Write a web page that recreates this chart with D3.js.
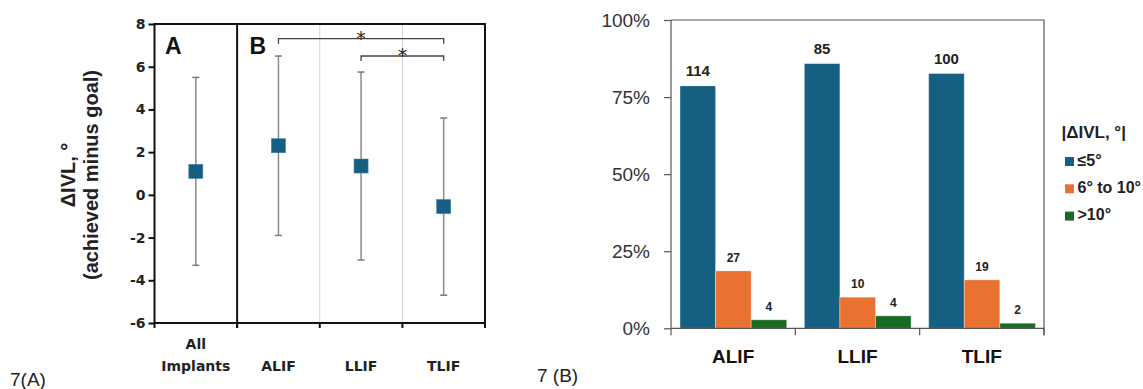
<!DOCTYPE html>
<html>
<head>
<meta charset="utf-8">
<script src="https://cdn.jsdelivr.net/npm/d3@7"></script>
<style>
  html, body { margin: 0; padding: 0; background: #fff; }
  svg { display: block; }
</style>
</head>
<body>
<script>
// ---------- Data: panel 7(A) ----------
const groupsA = ["All Implants", "ALIF", "LLIF", "TLIF"];
const meansA  = [1.1, 2.3, 1.35, -0.55];
const sdA     = [4.4, 4.2, 4.4, 4.15];
const yTicksA = [-6, -4, -2, 0, 2, 4, 6, 8];
const sigPairs = [["ALIF", "TLIF"], ["LLIF", "TLIF"]];

// ---------- Data: panel 7(B) ----------
const groupsB  = ["ALIF", "LLIF", "TLIF"];
const seriesB  = ["≤5°", "6° to 10°", ">10°"];
const countLE5   = [114, 85, 100];
const count6to10 = [27, 10, 19];
const countGT10  = [4, 4, 2];
const yTicksB  = [0, 0.25, 0.5, 0.75, 1];
const colorsB  = ["#156082", "#E97132", "#196B24"];
const legendTitle = "|ΔIVL, °|";

const W = 1143, H = 389;
const svg = d3.select("body").append("svg").attr("width", W).attr("height", H);
svg.append("rect").attr("width", W).attr("height", H).attr("fill", "#fff");

// ================= Panel A =================
const boldA = "'DejaVu Sans', sans-serif";
const xA = d3.scaleBand().domain(groupsA).range([154.5, 485]);
const yA = d3.scaleLinear().domain([-6, 8]).range([323, 24]);
const gA = svg.append("g");
const topA = yA(8), botA = yA(-6), leftA = xA.range()[0], rightA = xA.range()[1];

gA.selectAll("line.grid").data(["LLIF", "TLIF"]).join("line")
  .attr("x1", d => xA(d)).attr("x2", d => xA(d))
  .attr("y1", topA).attr("y2", botA)
  .attr("stroke", "#d4d4d4").attr("stroke-width", 1);

gA.append("rect").attr("x", leftA).attr("y", topA)
  .attr("width", rightA - leftA).attr("height", botA - topA)
  .attr("fill", "none").attr("stroke", "#111").attr("stroke-width", 2);
gA.append("line").attr("x1", xA("ALIF")).attr("x2", xA("ALIF"))
  .attr("y1", topA).attr("y2", botA + 5).attr("stroke", "#111").attr("stroke-width", 2);
const boundsA = groupsA.map(g => xA(g)).concat([rightA]);
gA.selectAll("line.btick").data(boundsA).join("line")
  .attr("x1", d => d).attr("x2", d => d)
  .attr("y1", botA).attr("y2", botA + 5)
  .attr("stroke", "#111").attr("stroke-width", 2);

const axA = gA.append("g").attr("transform", `translate(${leftA},0)`)
  .call(d3.axisLeft(yA).tickValues(yTicksA).tickSize(6).tickPadding(3).tickFormat(d => String(d)));
axA.select(".domain").remove();
axA.selectAll(".tick line").attr("stroke", "#111").attr("stroke-width", 2);
axA.selectAll(".tick text").attr("font-family", boldA).attr("font-weight", "bold")
  .attr("font-size", 14).attr("fill", "#222");

const yTitle = gA.append("text")
  .attr("transform", "translate(0,175) rotate(-90)")
  .attr("text-anchor", "middle").attr("font-family", "'Liberation Sans', Arial, sans-serif")
  .attr("font-weight", "bold").attr("font-size", 20).attr("fill", "#222");
yTitle.append("tspan").attr("x", 0).attr("y", 75).text("ΔIVL, °");
yTitle.append("tspan").attr("x", 0).attr("y", 98).text("(achieved minus goal)");

gA.selectAll("text.xl").data(groupsA).join("text")
  .attr("text-anchor", "middle").attr("font-family", boldA).attr("font-weight", "bold")
  .attr("font-size", 14).attr("fill", "#222")
  .each(function(d) {
    const t = d3.select(this);
    const cx = xA(d) + xA.bandwidth() / 2;
    const parts = d.split(" ");
    if (parts.length > 1) {
      t.append("tspan").attr("x", cx).attr("y", 349).text(parts[0]);
      t.append("tspan").attr("x", cx).attr("y", 371).text(parts[1]);
    } else {
      t.append("tspan").attr("x", cx).attr("y", 371).text(d);
    }
  });

gA.append("text").attr("x", 165).attr("y", 54).text("A")
  .attr("font-family", "'Liberation Sans', Arial, sans-serif").attr("font-weight", "bold")
  .attr("font-size", 23).attr("fill", "#111");
gA.append("text").attr("x", 249.5).attr("y", 54).text("B")
  .attr("font-family", "'Liberation Sans', Arial, sans-serif").attr("font-weight", "bold")
  .attr("font-size", 23).attr("fill", "#111");

const cxA = d => xA(d) + xA.bandwidth() / 2;
const ptsA = groupsA.map((g, i) => ({ g, m: meansA[i], lo: meansA[i] - sdA[i], hi: meansA[i] + sdA[i] }));
gA.selectAll("line.eb").data(ptsA).join("line")
  .attr("x1", d => cxA(d.g)).attr("x2", d => cxA(d.g))
  .attr("y1", d => yA(d.hi)).attr("y2", d => yA(d.lo))
  .attr("stroke", "#8a8a8a").attr("stroke-width", 1.5);
["hi", "lo"].forEach(k => {
  gA.selectAll("line.cap" + k).data(ptsA).join("line")
    .attr("x1", d => cxA(d.g) - 3.5).attr("x2", d => cxA(d.g) + 3.5)
    .attr("y1", d => yA(d[k])).attr("y2", d => yA(d[k]))
    .attr("stroke", "#7a7a7a").attr("stroke-width", 1.5);
});
gA.selectAll("rect.mk").data(ptsA).join("rect")
  .attr("x", d => cxA(d.g) - 7).attr("y", d => yA(d.m) - 7)
  .attr("width", 14).attr("height", 14)
  .attr("fill", "#156082").attr("stroke", "#3f7f9c").attr("stroke-width", 0.6);

const bracketY = [38.7, 56];
sigPairs.forEach((p, i) => {
  const x1 = cxA(p[0]), x2 = cxA(p[1]), by = bracketY[i];
  gA.append("path")
    .attr("d", `M${x1},${by + 5}V${by}H${x2}V${by + 5}`)
    .attr("fill", "none").attr("stroke", "#444").attr("stroke-width", 1.3);
  gA.append("text").attr("x", (x1 + x2) / 2).attr("y", by + 6)
    .attr("text-anchor", "middle").attr("font-family", "'DejaVu Sans', sans-serif")
    .attr("font-size", 19).attr("fill", "#222").text("*");
});

svg.append("text").attr("x", 10).attr("y", 386).text("7(A)")
  .attr("font-family", "'Liberation Sans', Arial, sans-serif").attr("font-size", 19).attr("fill", "#222");

// ================= Panel B =================
const fontB = "'Liberation Sans', Arial, sans-serif";
const countsB = [countLE5, count6to10, countGT10];
const totals = groupsB.map((g, i) => countsB.reduce((s, arr) => s + arr[i], 0));
const xB = d3.scaleBand().domain(groupsB).range([671, 1044]);
const xInner = d3.scaleBand().domain(seriesB).range([9, xB.bandwidth() - 8.6]);
const yB = d3.scaleLinear().domain([0, 1]).range([328.3, 20]);
const gB = svg.append("g");
const topB = yB(1), botB = yB(0), leftB = xB.range()[0], rightB = xB.range()[1];

gB.append("path").attr("d", `M${leftB},${topB}H${rightB}V${botB + 7}`)
  .attr("fill", "none").attr("stroke", "#555").attr("stroke-width", 1.2);

const barData = [];
groupsB.forEach((g, i) => seriesB.forEach((s, j) => {
  barData.push({ g, s, j, n: countsB[j][i], p: countsB[j][i] / totals[i] });
}));
gB.selectAll("rect.bar").data(barData).join("rect")
  .attr("x", d => xB(d.g) + xInner(d.s)).attr("width", xInner.bandwidth())
  .attr("y", d => yB(d.p)).attr("height", d => botB - yB(d.p))
  .attr("fill", d => colorsB[d.j])
  .attr("stroke", "rgba(255,255,255,0.45)").attr("stroke-width", 0.8);

gB.selectAll("text.bl").data(barData).join("text")
  .attr("x", d => xB(d.g) + xInner(d.s) + xInner.bandwidth() / 2)
  .attr("y", d => yB(d.p) - (d.j === 0 ? 10 : 9))
  .attr("text-anchor", "middle").attr("font-family", fontB).attr("font-weight", "bold")
  .attr("font-size", d => d.j === 0 ? 15 : 12).attr("fill", "#222")
  .text(d => d.n);

const axB = gB.append("g").attr("transform", `translate(${leftB},0)`)
  .call(d3.axisLeft(yB).tickValues(yTicksB).tickSize(7).tickPadding(14).tickFormat(d3.format(".0%")));
axB.select(".domain").attr("stroke", "#555").attr("stroke-width", 1.2).attr("d", `M0,${topB}V${botB}`);
axB.selectAll(".tick line").attr("stroke", "#555").attr("stroke-width", 1.2);
axB.selectAll(".tick text").attr("font-family", fontB).attr("font-size", 19).attr("fill", "#333");

gB.append("line").attr("x1", leftB).attr("x2", rightB).attr("y1", botB).attr("y2", botB)
  .attr("stroke", "#555").attr("stroke-width", 1.2);
const boundsB = groupsB.map(g => xB(g)).concat([rightB]);
gB.selectAll("line.bt").data(boundsB).join("line")
  .attr("x1", d => d).attr("x2", d => d).attr("y1", botB).attr("y2", botB + 7)
  .attr("stroke", "#555").attr("stroke-width", 1.2);
gB.selectAll("text.xl").data(groupsB).join("text")
  .attr("x", d => xB(d) + xB.bandwidth() / 2).attr("y", 363)
  .attr("text-anchor", "middle").attr("font-family", fontB).attr("font-weight", "bold")
  .attr("font-size", 19).attr("fill", "#111").text(d => d);

const lg = gB.append("g");
lg.append("text").attr("x", 1061.5).attr("y", 138).text(legendTitle)
  .attr("font-family", fontB).attr("font-weight", "bold").attr("font-size", 17).attr("fill", "#222");
seriesB.forEach((s, j) => {
  const yy = 157 + j * 27.3;
  lg.append("rect").attr("x", 1065).attr("y", yy).attr("width", 9).attr("height", 9).attr("fill", colorsB[j]);
  lg.append("text").attr("x", 1077.5).attr("y", yy + 8.5).text(s)
    .attr("font-family", fontB).attr("font-weight", "bold").attr("font-size", 16).attr("fill", "#222");
});

svg.append("text").attr("x", 537).attr("y", 382).text("7 (B)")
  .attr("font-family", fontB).attr("font-size", 19).attr("fill", "#222");
</script>
</body>
</html>
